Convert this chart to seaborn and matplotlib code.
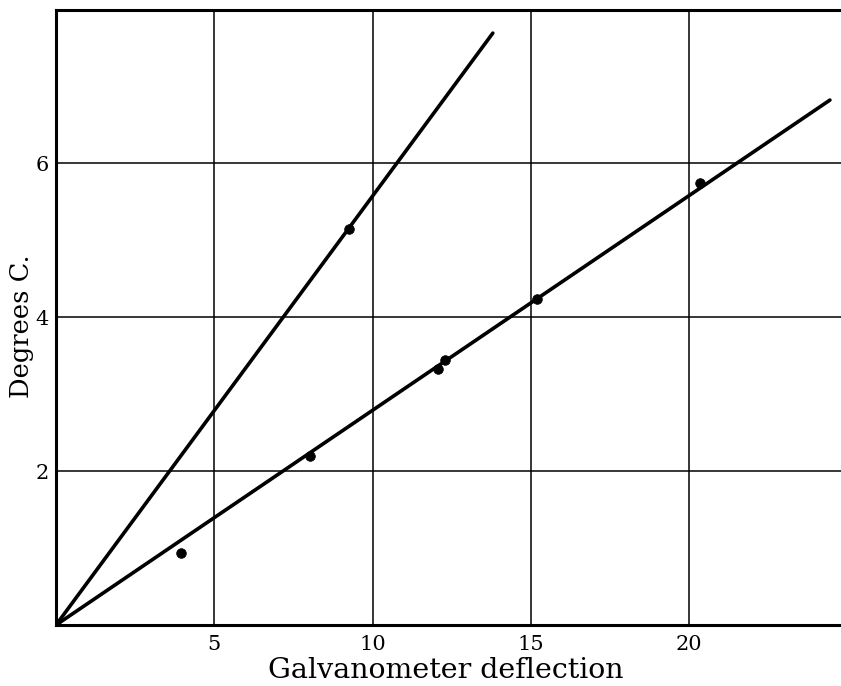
import matplotlib
matplotlib.use("Agg")
import matplotlib.pyplot as plt
import seaborn as sns
import pandas as pd

# Observed points (galvanometer deflection, degrees C)
point_x = [0.0, 3.95, 8.03, 9.26, 12.07, 12.29, 15.2, 20.35]
point_y = [0.0, 0.94, 2.19, 5.14, 3.32, 3.44, 4.23, 5.74]

# Fitted straight lines through the origin (end points)
steep_x = [0.0, 13.8]
steep_y = [0.0, 7.69]
shallow_x = [0.0, 24.45]
shallow_y = [0.0, 6.82]

x_ticks = [5, 10, 15, 20]
y_ticks = [2, 4, 6]

sns.set_theme(style="white")
plt.rcParams['font.family'] = ['DejaVu Serif']

fig = plt.figure(figsize=(8.41, 6.86), dpi=100)
ax = fig.add_axes([0.0666, 0.0889, 0.9334, 0.8965])

pts = pd.DataFrame({"x": point_x, "y": point_y})
lines = pd.concat([
    pd.DataFrame({"x": steep_x, "y": steep_y, "line": "steep"}),
    pd.DataFrame({"x": shallow_x, "y": shallow_y, "line": "shallow"}),
])

sns.lineplot(data=lines, x="x", y="y", units="line", estimator=None, sort=False,
             color="black", linewidth=2.6, ax=ax, legend=False, zorder=3)
sns.scatterplot(data=pts, x="x", y="y", color="black", s=48, edgecolor="black",
                ax=ax, legend=False, zorder=4)

ax.set_xlim(0, 24.8)
ax.set_ylim(0, 7.99)
ax.set_xticks(x_ticks)
ax.set_yticks(y_ticks)
ax.set_xticklabels([str(t) for t in x_ticks], fontsize=15)
ax.set_yticklabels([str(t) for t in y_ticks], fontsize=15)
ax.tick_params(axis="x", length=0, pad=7, colors="black")
ax.tick_params(axis="y", length=0, pad=5, colors="black")
ax.grid(True, color="black", linewidth=1.1)

for side in ["left", "bottom", "top"]:
    ax.spines[side].set_visible(True)
    ax.spines[side].set_color("black")
    ax.spines[side].set_linewidth(2.2)
ax.spines["right"].set_visible(False)

ax.set_xlabel("Galvanometer deflection", fontsize=20.5, color="black", labelpad=0)
ax.xaxis.set_label_coords(0.496, -0.052)
ax.set_ylabel("Degrees C.", fontsize=18.5, color="black")
ax.yaxis.set_label_coords(-0.028, 0.486)

fig.savefig("out.png", dpi=100, facecolor="white")
